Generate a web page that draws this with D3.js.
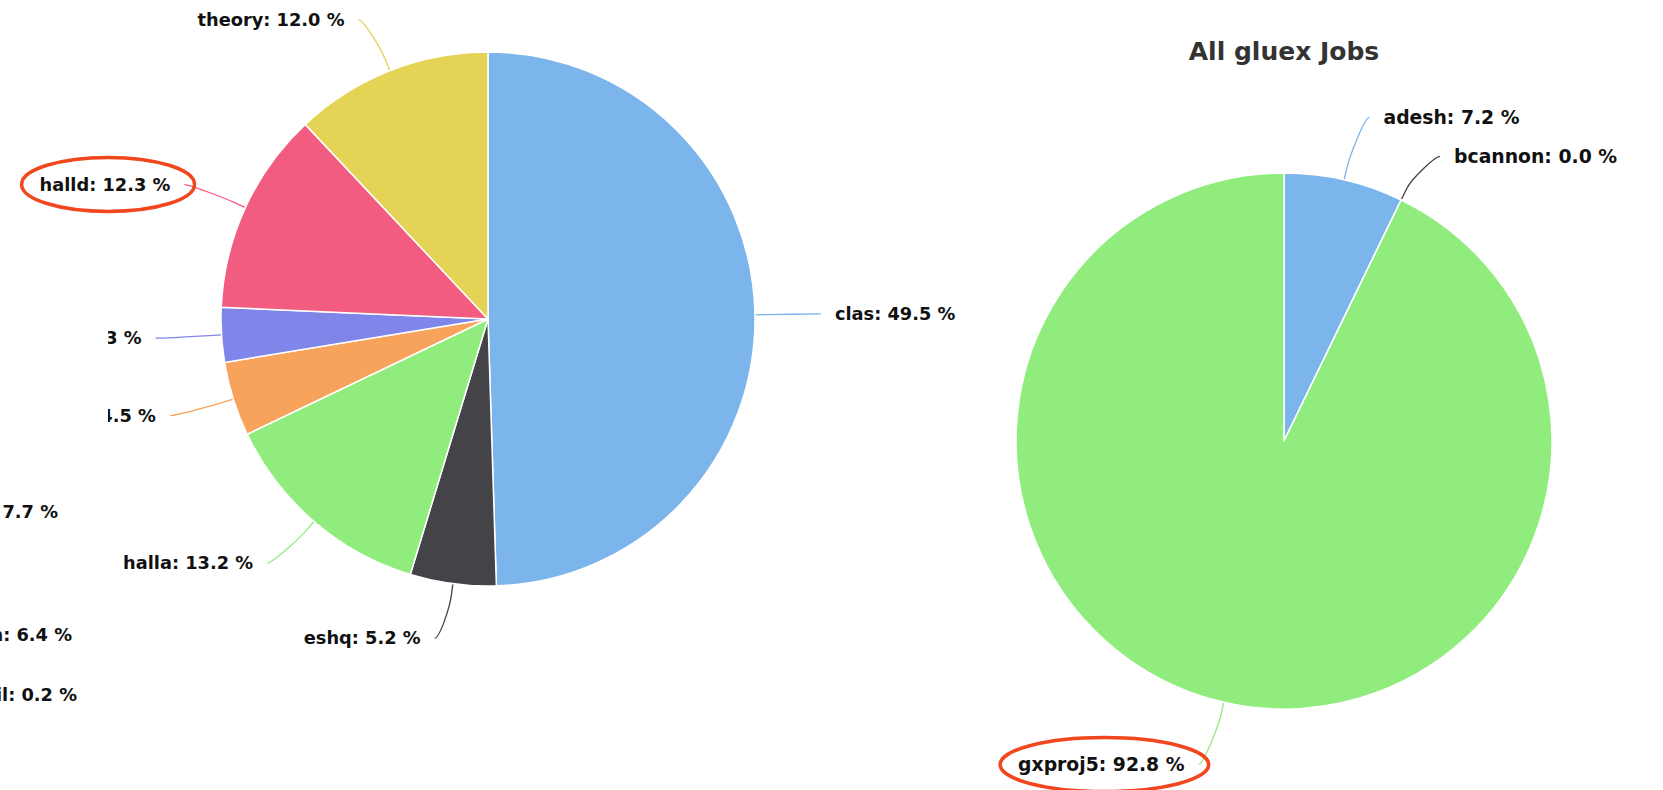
<!DOCTYPE html>
<html>
<head>
<meta charset="utf-8">
<script src="https://cdn.jsdelivr.net/npm/d3@7"></script>
<style>
  body { margin: 0; background: #fff; }
  text { font-family: "DejaVu Sans", Verdana, sans-serif; font-weight: bold; }
</style>
</head>
<body>
<svg id="chart"></svg>
<script>
// left pie, its title is cut off above the frame
const groupNames = ["clas", "eshq", "halla", "", "", "halld", "theory"];
const groupShares = [49.5, 5.2, 13.2, 4.5, 3.3, 12.3, 12.0];

// right pie
const gluexTitle = "All gluex Jobs";
const gluexNames = ["adesh", "bcannon", "gxproj5"];
const gluexShares = [7.2, 0.0, 92.8];

// labels of a third pie that sits outside the frame on the left
const cutLabels = ["7.7 %", "n: 6.4 %", "il: 0.2 %"];
const cutLabelEnd = [58, 72, 77];
const cutLabelY = [512, 635, 695];

// labels somebody circled in red
const circled = ["halld", "gxproj5"];

const colors = ["#7cb5ec", "#434348", "#90ed7d", "#f7a35c", "#8085e9", "#f15c80", "#e4d354"];

const W = 1663, H = 790;
const fmt = d3.format(".1f");

const svg = d3.select("#chart").attr("width", W).attr("height", H);
svg.append("rect").attr("width", W).attr("height", H).attr("fill", "#fff");

function drawPie(g, names, shares, opt) {
  const pie = d3.pie().sort(null).value(d => d.v);
  const arcs = pie(names.map((n, i) => ({name: n, v: shares[i], color: colors[i]})));
  const arc = d3.arc().innerRadius(0).outerRadius(opt.r);

  const r = opt.r, R = opt.r + opt.dist;
  const getX = (y, s) => {
    const dy = Math.max(-R, Math.min(R, y - opt.cy));
    return opt.cx + s * (Math.sqrt(R * R - dy * dy) + 11);
  };

  // label y from the angle; bigger slices keep their place, smaller ones get pushed
  const labels = arcs.map(d => {
    const m = (d.startAngle + d.endAngle) / 2;
    const ny = opt.cy - R * Math.cos(m);
    return {d, m, s: m < Math.PI ? 1 : -1, ny, y: ny};
  });
  [1, -1].forEach(side => {
    const placed = [];
    labels.filter(l => l.s === side)
      .sort((a, b) => b.d.data.v - a.d.data.v)
      .forEach(l => {
        let moved = true;
        while (moved) {
          moved = false;
          placed.forEach(p => {
            if (Math.abs(l.y - p.y) < 39) {
              l.y = l.ny >= p.y ? p.y + 39 : p.y - 39;
              moved = true;
            }
          });
        }
        placed.push(l);
      });
  });
  labels.forEach(l => {
    // near top and bottom use the natural y for x, like highcharts does
    const useY = (l.y < opt.cy - r || l.y > opt.cy + r) ? l.ny : l.y;
    l.x = getX(useY, l.s);
  });

  // connectors
  g.selectAll("path.conn").data(labels).join("path")
    .attr("class", "conn")
    .attr("fill", "none")
    .attr("stroke", l => l.d.data.color)
    .attr("stroke-width", 1.3)
    .attr("d", l => {
      const ex = opt.cx + r * Math.sin(l.m), ey = opt.cy - r * Math.cos(l.m);
      const bx = opt.cx + (r + 12) * Math.sin(l.m), by = opt.cy - (r + 12) * Math.cos(l.m);
      const p = d3.path();
      p.moveTo(l.x, l.y);
      p.bezierCurveTo(l.x - 5 * l.s, l.y, 2 * bx - ex, 2 * by - ey, bx, by);
      p.lineTo(ex, ey);
      return p.toString();
    });

  g.selectAll("path.slice").data(arcs).join("path")
    .attr("class", "slice")
    .attr("transform", `translate(${opt.cx},${opt.cy})`)
    .attr("d", arc)
    .attr("fill", d => d.data.color)
    .attr("stroke", "#fff")
    .attr("stroke-width", 1.5)
    .attr("stroke-linejoin", "round");

  g.selectAll("text.lbl").data(labels).join("text")
    .attr("class", "lbl")
    .attr("x", l => l.x + l.s * 14)
    .attr("y", l => l.y)
    .attr("dy", "0.35em")
    .attr("text-anchor", l => l.s > 0 ? "start" : "end")
    .attr("font-size", opt.fontSize)
    .attr("fill", "#111")
    .text(l => (l.d.data.name ? l.d.data.name + ": " : "") + fmt(l.d.data.v) + " %");
}

const leftG = svg.append("g");
drawPie(leftG, groupNames, groupShares, {cx: 488, cy: 319, r: 267, dist: 55, fontSize: 17.8});

const rightG = svg.append("g");
rightG.append("text")
  .attr("x", 1284).attr("y", 60)
  .attr("text-anchor", "middle")
  .attr("font-size", 25)
  .attr("fill", "#333")
  .text(gluexTitle);
drawPie(rightG, gluexNames, gluexShares, {cx: 1284, cy: 441, r: 268, dist: 64, fontSize: 18.8});

// the neighbouring chart's white box hides the left ends of two labels
const farG = svg.append("g");
farG.append("rect")
  .attr("x", 0).attr("y", 260)
  .attr("width", 108).attr("height", H - 260)
  .attr("fill", "#fff");

// pieces of labels from the pie beyond the left edge
farG.selectAll("text.cut").data(cutLabels).join("text")
  .attr("class", "cut")
  .attr("x", (d, i) => cutLabelEnd[i])
  .attr("y", (d, i) => cutLabelY[i])
  .attr("dy", "0.35em")
  .attr("text-anchor", "end")
  .attr("font-size", 17.8)
  .attr("fill", "#111")
  .text(d => d);

// red annotation ellipses round the circled labels
svg.selectAll("text.lbl")
  .filter(l => circled.includes(l.d.data.name))
  .each(function() {
    const b = this.getBBox();
    svg.append("ellipse")
      .attr("cx", b.x + b.width / 2 + 3)
      .attr("cy", b.y + b.height / 2)
      .attr("rx", b.width / 2 + 21)
      .attr("ry", 27)
      .attr("fill", "none")
      .attr("stroke", "#f2461f")
      .attr("stroke-width", 3.5);
  });
</script>
</body>
</html>
